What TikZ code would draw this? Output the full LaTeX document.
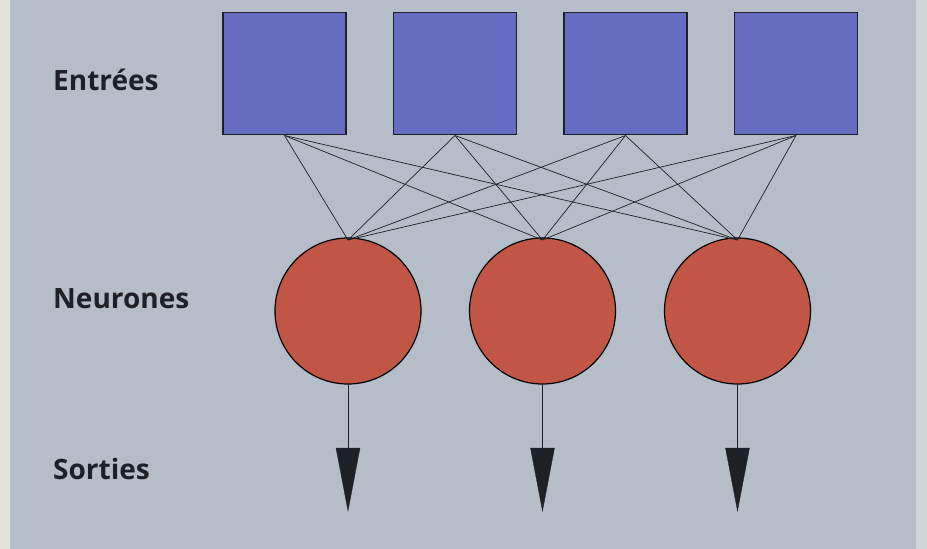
\documentclass[tikz,border=0pt]{standalone}
\usepackage{fontspec}
\setmainfont{Open Sans}
\usetikzlibrary{calc}
\definecolor{bg}{RGB}{181,189,200}
\definecolor{strip}{RGB}{228,227,217}
\definecolor{rstrip}{RGB}{208,213,220}
\definecolor{boxblue}{RGB}{102,108,194}
\definecolor{cred}{RGB}{194,86,70}
\definecolor{ink}{RGB}{30,32,40}
\tikzset{
  inbox/.style={draw=ink, line width=1.4pt, fill=boxblue, minimum width=123pt, minimum height=122pt, inner sep=0pt, outer sep=0pt},
  neuron/.style={circle, draw=black, line width=1.2pt, fill=cred, minimum size=146pt, inner sep=0pt, outer sep=0pt},
  link/.style={draw=ink, line width=0.7pt},
  outline/.style={draw=ink, line width=0.9pt},
  tip/.style={fill=ink, draw=ink, line width=0.3pt},
  lab/.style={anchor=base west, inner sep=0pt, font=\bfseries\fontsize{28}{28}\selectfont, text=ink}
}
\begin{document}
\begin{tikzpicture}[x=1pt,y=-1pt]
\useasboundingbox (0,0) rectangle (927,549);
\fill[bg] (0,0) rectangle (927,549);
\fill[strip] (0,0) rectangle (10,549);
\fill[rstrip] (916,0) rectangle (927,549);

\node[lab] (l1) at (53,90) {Entrées};
\node[lab] (l2) at (53,308) {Neurones};
\node[lab] (l3) at (53,479) {Sorties};

\node[inbox] (b1) at (284.5,73.5) {};
\node[inbox] (b2) at (455,73.5) {};
\node[inbox] (b3) at (625.5,73.5) {};
\node[inbox] (b4) at (796,73.5) {};

\node[neuron] (n1) at (348,311) {};
\node[neuron] (n2) at (542.5,311) {};
\node[neuron] (n3) at (737.5,311) {};

\foreach \b in {b1,b2,b3,b4}
  \foreach \n in {n1,n2,n3}
    \draw[link] ($(\b.south)+(0,1)$) -- ($(\n.north)+(0,2)$);

\foreach \n in {n1,n2,n3}{
  \coordinate (\n t) at ($(\n.south)+(0,64)$);
  \coordinate (\n l) at ($(\n t)+(-12,0)$);
  \coordinate (\n r) at ($(\n t)+(12,0)$);
  \coordinate (\n p) at ($(\n t)+(0,63)$);
  \draw[outline] (\n.south) -- (\n t);
  \filldraw[tip] (\n l) -- (\n r) -- (\n p) -- cycle;
}
\end{tikzpicture}
\end{document}
